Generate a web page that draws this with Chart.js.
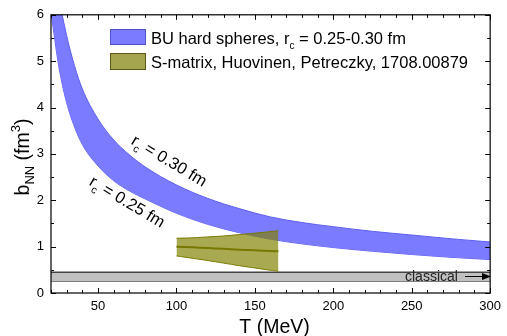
<!DOCTYPE html>
<html><head><meta charset="utf-8">
<script src="https://cdn.jsdelivr.net/npm/chart.js@4/dist/chart.umd.min.js"></script>
<style>html,body{margin:0;padding:0;background:#fff}#wrap{width:507px;height:336px;position:relative}</style>
</head><body><div id="wrap"><canvas id="c" width="507" height="336"></canvas></div>
<script>
// ---- data ----
const T_BU = [20, 25, 30, 35, 40, 50, 60, 70, 80, 100, 120, 140, 160, 180, 200, 225, 250, 275, 300];
const bHS030 = [7.6, 6.4, 5.55, 4.9, 4.4, 3.75, 3.3, 2.98, 2.72, 2.33, 2.04, 1.82, 1.64, 1.52, 1.43, 1.33, 1.25, 1.17, 1.10];
const bHS025 = [6.05, 4.88, 4.1, 3.58, 3.2, 2.74, 2.42, 2.2, 2.03, 1.72, 1.48, 1.30, 1.16, 1.06, 0.98, 0.90, 0.83, 0.77, 0.72];
const T_SM = [100, 110, 120, 130, 140, 150, 160, 165];
const bSMupper = [1.18, 1.19, 1.21, 1.23, 1.26, 1.29, 1.325, 1.345];
const bSMlower = [0.80, 0.75, 0.70, 0.645, 0.59, 0.54, 0.49, 0.47];
const bSMcenter = [1.00, 0.985, 0.97, 0.953, 0.935, 0.92, 0.905, 0.90];
const T_CL = [20, 300];
const bClassUpper = [0.45, 0.45];
const bClassLower = [0.26, 0.26];
const xTicks = [50, 100, 150, 200, 250, 300];
const yTicks = [0, 1, 2, 3, 4, 5, 6];

const pts = (xs, ys) => xs.map((x, i) => ({x, y: ys[i]}));
const FONT = '"Liberation Sans", Arial, sans-serif';

const BLUE = 'rgb(123,123,255)';
const BLUE_EDGE = 'rgb(95,95,240)';
const OLIVE = 'rgba(128,128,0,0.68)';
const OLIVE_EDGE = 'rgb(120,120,0)';

function richWidth(ctx, parts) {
  let w = 0;
  for (const p of parts) { ctx.font = p.size + 'px ' + FONT; w += ctx.measureText(p.t).width; }
  return w;
}
function drawRich(ctx, parts, x, y) {
  let cx = x;
  for (const p of parts) {
    ctx.font = p.size + 'px ' + FONT;
    ctx.fillText(p.t, cx, y + (p.dy || 0));
    cx += ctx.measureText(p.t).width;
  }
}

const decor = {
  id: 'decor',
  afterDatasetsDraw(chart) {
    const ctx = chart.ctx;
    const xs = chart.scales.x, ys = chart.scales.y;
    const a = chart.chartArea;
    ctx.save();
    // frame
    ctx.strokeStyle = '#000';
    ctx.lineWidth = 1.2;
    ctx.strokeRect(a.left, a.top, a.right - a.left, a.bottom - a.top);
    // ticks inward
    ctx.lineWidth = 1;
    ctx.beginPath();
    const xMajor = xs.ticks.map(t => t.value);
    for (let v = xs.min; v <= xs.max + 1e-9; v += 10) {
      const px = Math.round(xs.getPixelForValue(v)) + 0.5;
      const L = xMajor.includes(v) ? 5 : 3;
      ctx.moveTo(px, a.bottom); ctx.lineTo(px, a.bottom - L);
      ctx.moveTo(px, a.top); ctx.lineTo(px, a.top + L);
    }
    const yMajor = ys.ticks.map(t => t.value);
    for (let v = ys.min; v <= ys.max + 1e-9; v += 0.5) {
      const py = Math.round(ys.getPixelForValue(v)) + 0.5;
      const L = yMajor.includes(v) ? 5 : 3;
      ctx.moveTo(a.left, py); ctx.lineTo(a.left + L, py);
      ctx.moveTo(a.right, py); ctx.lineTo(a.right - L, py);
    }
    ctx.stroke();

    ctx.fillStyle = '#000';
    ctx.textBaseline = 'alphabetic';
    // x title
    ctx.font = '19.5px ' + FONT;
    ctx.textAlign = 'center';
    ctx.fillText('T (MeV)', (a.left + a.right) / 2 + 4, 333);
    // y title
    ctx.save();
    ctx.translate(29, 157);
    ctx.rotate(-Math.PI / 2);
    ctx.textAlign = 'left';
    const yParts = [{t: 'b', size: 19.5}, {t: 'NN', size: 13, dy: 5}, {t: ' (fm', size: 19.5}, {t: '3', size: 13, dy: -9}, {t: ')', size: 19.5}];
    drawRich(ctx, yParts, -richWidth(ctx, yParts) / 2, 0);
    ctx.restore();

    // legend
    const lx = 110;
    const rows = [
      {y: 29, h: 16, fill: BLUE, edge: 'rgb(80,80,200)', parts: [{t: 'BU hard spheres, r', size: 16.5}, {t: 'c', size: 10, dy: 5}, {t: ' = 0.25-0.30 fm', size: 16.5}], base: 44},
      {y: 53, h: 17, fill: 'rgb(165,165,80)', edge: 'rgb(90,90,20)', parts: [{t: 'S-matrix, Huovinen, Petreczky, 1708.00879', size: 16.5}], base: 68}
    ];
    ctx.textAlign = 'left';
    for (const r of rows) {
      ctx.fillStyle = r.fill;
      ctx.fillRect(lx, r.y, 36, r.h);
      ctx.strokeStyle = r.edge;
      ctx.lineWidth = 1;
      ctx.strokeRect(lx + 0.5, r.y + 0.5, 35, r.h - 1);
      ctx.fillStyle = '#000';
      drawRich(ctx, r.parts, 151, r.base);
    }

    // annotations
    const ann = (parts, cx, cy, ang) => {
      ctx.save();
      ctx.translate(cx, cy);
      ctx.rotate(ang * Math.PI / 180);
      drawRich(ctx, parts, -richWidth(ctx, parts) / 2, 5);
      ctx.restore();
    };
    ctx.fillStyle = '#000';
    ann([{t: 'r', size: 16.5}, {t: 'c', size: 10.5, dy: 5}, {t: ' = 0.30 fm', size: 16.5}], 169, 161, 31);
    ann([{t: 'r', size: 16.5}, {t: 'c', size: 10.5, dy: 5}, {t: ' = 0.25 fm', size: 16.5}], 127, 202, 31);

    // classical label
    ctx.font = '14px ' + FONT;
    ctx.fillStyle = '#222';
    ctx.textAlign = 'left';
    ctx.fillText('classical', 405, 281);
    ctx.strokeStyle = '#000';
    ctx.lineWidth = 1;
    ctx.beginPath();
    ctx.moveTo(465, 276.5); ctx.lineTo(488, 276.5);
    ctx.stroke();
    ctx.beginPath();
    ctx.moveTo(491, 276.5); ctx.lineTo(482, 273); ctx.lineTo(482, 280); ctx.closePath();
    ctx.fillStyle = '#000';
    ctx.fill();
    ctx.restore();
  }
};

new Chart(document.getElementById('c'), {
  type: 'line',
  data: {
    datasets: [
      {data: pts(T_SM, bSMcenter), borderColor: 'rgb(120,120,0)', borderWidth: 2, pointRadius: 0, fill: false, tension: 0.4, order: 0},
      {data: pts(T_SM, bSMupper), borderColor: OLIVE_EDGE, borderWidth: 1, pointRadius: 0, fill: '+1', backgroundColor: OLIVE, tension: 0.4, order: 1},
      {data: pts(T_SM, bSMlower), borderColor: OLIVE_EDGE, borderWidth: 1, pointRadius: 0, fill: false, tension: 0.4, order: 1},
      {data: pts(T_BU, bHS030), borderColor: BLUE_EDGE, borderWidth: 1, pointRadius: 0, fill: '+1', backgroundColor: BLUE, cubicInterpolationMode: 'monotone', order: 2},
      {data: pts(T_BU, bHS025), borderColor: BLUE_EDGE, borderWidth: 1, pointRadius: 0, fill: false, cubicInterpolationMode: 'monotone', order: 2},
      {data: pts(T_CL, bClassUpper), borderColor: '#444', borderWidth: 1.5, pointRadius: 0, fill: '+1', backgroundColor: 'rgb(192,192,192)', order: 3},
      {data: pts(T_CL, bClassLower), borderColor: '#000', borderWidth: 1.2, pointRadius: 0, fill: false, order: 3}
    ]
  },
  options: {
    responsive: false,
    animation: false,
    devicePixelRatio: 1,
    layout: {padding: {left: 0, right: 13, top: 12, bottom: 0}},
    plugins: {legend: {display: false}, tooltip: {enabled: false}},
    scales: {
      x: {
        type: 'linear', min: 20, max: 300,
        grid: {display: false, drawTicks: false},
        border: {display: false},
        afterBuildTicks: s => { s.ticks = xTicks.map(v => ({value: v})); },
        afterFit: s => { s.height = 43; },
        ticks: {padding: 6, color: '#000', font: {family: FONT, size: 13}, maxRotation: 0, autoSkip: false}
      },
      y: {
        type: 'linear', min: 0, max: 6,
        grid: {display: false, drawTicks: false},
        border: {display: false},
        afterBuildTicks: s => { s.ticks = yTicks.map(v => ({value: v})); },
        afterFit: s => { s.width = 51; },
        ticks: {padding: 7, color: '#000', font: {family: FONT, size: 13}, autoSkip: false}
      }
    }
  },
  plugins: [decor]
});
</script>
</body></html>
